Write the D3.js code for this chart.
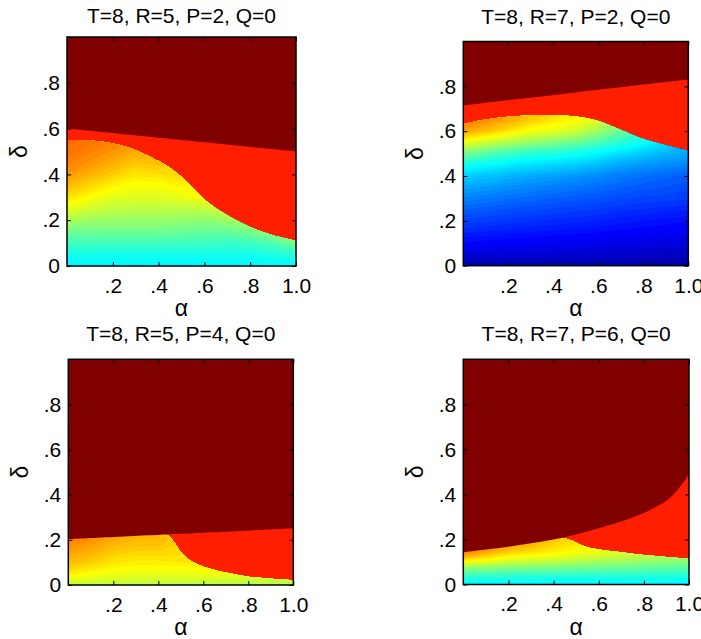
<!DOCTYPE html>
<html>
<head>
	<meta charset="utf-8">
	<title>Contour panels</title>
	<script type="text/javascript" src="https://cdn.jsdelivr.net/npm/d3@7"></script>
	<style>
		body {
			margin: 0;
			background: #fff;
		}
		svg {
			display: block;
			font-family: "Liberation Sans", Arial, Helvetica, sans-serif;
		}
	</style>
</head>

<body>

	<div id="chart"></div>

	<script>

	// data

	const titles = ["T=8, R=5, P=2, Q=0", "T=8, R=7, P=2, Q=0", "T=8, R=5, P=4, Q=0", "T=8, R=7, P=6, Q=0"];

	const alphaCols   = [0, 0.1, 0.2, 0.3, 0.4, 0.5, 0.6, 0.7, 0.8, 0.9, 1.0];
	const xTicks      = [0.2, 0.4, 0.6, 0.8, 1.0];
	const xTickLabels = [".2", ".4", ".6", ".8", "1.0"];
	const yTicks      = [0, 0.2, 0.4, 0.6, 0.8];
	const yTickLabels = ["0", ".2", ".4", ".6", ".8"];

	// colour levels of the two flat regions
	const darkLevel = 1.0;
	const redLevel  = 0.845;

	// panel 1 : T=8, R=5, P=2
	const upper1 = [[0, .60], [.5, .55], [1, .50]];
	const lower1 = [[0, .55], [.1, .548], [.2, .535], [.3, .506], [.4, .458], [.45, .428], [.5, .39],
		[.55, .342], [.6, .29], [.65, .252], [.7, .222], [.8, .17], [.9, .134], [1, .11]];
	const step1  = 0.05;
	const field1 = [
		[.37, .37, .37, .37, .37, .37, .37, .37, .37, .37, .37],
		[.40, .40, .40, .40, .40, .40, .40, .40, .40, .41, .42],
		[.44, .445, .445, .445, .445, .44, .44, .435, .44, .46, .50],
		[.49, .49, .49, .49, .49, .485, .48, .48, .50, .53, .53],
		[.55, .535, .53, .53, .53, .525, .52, .535, .56, .55, .53],
		[.61, .585, .57, .565, .565, .565, .57, .59, .56, .55, .53],
		[.66, .63, .605, .60, .60, .61, .63, .59, .56, .55, .53],
		[.70, .67, .64, .625, .625, .64, .63, .59, .56, .55, .53],
		[.735, .705, .68, .655, .66, .67, .63, .59, .56, .55, .53],
		[.755, .735, .71, .685, .695, .67, .63, .59, .56, .55, .53],
		[.77, .755, .735, .715, .71, .67, .63, .59, .56, .55, .53],
		[.78, .77, .755, .735, .71, .67, .63, .59, .56, .55, .53],
		[.785, .775, .765, .745, .71, .67, .63, .59, .56, .55, .53]
	];

	// panel 2 : T=8, R=7, P=2
	const upper2 = [[0, .715], [.5, .773], [1, .83]];
	const lower2 = [[0, .632], [.1, .652], [.2, .664], [.3, .670], [.4, .671], [.5, .665], [.6, .645],
		[.7, .605], [.8, .565], [.9, .537], [1, .512]];
	const step2  = 0.05;
	const field2 = [
		[.05, .05, .05, .05, .05, .05, .049, .048, .047, .046, .045],
		[.09, .09, .088, .087, .085, .083, .081, .078, .075, .072, .07],
		[.135, .13, .127, .123, .12, .117, .113, .108, .103, .099, .095],
		[.165, .16, .155, .15, .145, .142, .138, .133, .128, .124, .12],
		[.195, .19, .183, .177, .172, .167, .162, .155, .15, .145, .14],
		[.225, .218, .21, .203, .197, .192, .186, .178, .173, .169, .165],
		[.26, .25, .24, .232, .225, .218, .211, .203, .197, .193, .19],
		[.295, .285, .272, .262, .255, .246, .237, .227, .218, .212, .205],
		[.335, .322, .31, .298, .29, .279, .267, .252, .24, .23, .22],
		[.40, .38, .365, .352, .342, .33, .315, .295, .28, .27, .26],
		[.495, .465, .44, .42, .41, .395, .375, .35, .33, .31, .295],
		[.615, .58, .55, .525, .505, .485, .45, .42, .39, .35, .31],
		[.72, .69, .655, .62, .605, .58, .535, .49, .44, .37, .31],
		[.77, .745, .715, .68, .655, .635, .60, .52, .44, .37, .31],
		[.785, .765, .735, .70, .68, .64, .60, .52, .44, .37, .31],
		[.785, .765, .735, .70, .68, .64, .60, .52, .44, .37, .31]
	];

	// panel 3 : T=8, R=5, P=4
	const upper3 = [[0, .203], [.5, .227], [1, .251]];
	const lower3 = [[0, .203], [.1, .208], [.2, .213], [.3, .218], [.4, .222], [.44, .221], [.47, .19],
		[.5, .145], [.54, .11], [.58, .09], [.63, .072], [.7, .055], [.8, .037], [.9, .028], [1, .022]];
	const step3  = 0.025;
	const field3 = [
		[.57, .57, .565, .565, .565, .56, .56, .56, .555, .555, .555],
		[.61, .60, .595, .59, .59, .59, .59, .59, .585, .58, .58],
		[.645, .63, .615, .61, .61, .61, .615, .62, .61, .60, .59],
		[.675, .655, .635, .63, .63, .63, .635, .63, .61, .60, .59],
		[.695, .68, .655, .645, .645, .65, .65, .63, .61, .60, .59],
		[.71, .695, .67, .66, .66, .66, .65, .63, .61, .60, .59],
		[.725, .71, .685, .675, .675, .67, .65, .63, .61, .60, .59],
		[.74, .725, .70, .69, .69, .67, .65, .63, .61, .60, .59],
		[.755, .74, .715, .70, .70, .67, .65, .63, .61, .60, .59],
		[.76, .75, .72, .71, .705, .67, .65, .63, .61, .60, .59],
		[.76, .75, .72, .71, .705, .67, .65, .63, .61, .60, .59]
	];

	// panel 4 : T=8, R=7, P=6
	const upper4 = [[0, .143], [.1, .155], [.2, .168], [.3, .183], [.4, .2], [.5, .222], [.6, .25],
		[.7, .28], [.8, .318], [.85, .343], [.9, .372], [.95, .42], [1, .49]];
	const lower4 = [[0, .143], [.1, .155], [.2, .168], [.3, .183], [.4, .2], [.44, .207], [.48, .195],
		[.53, .172], [.6, .155], [.7, .143], [.8, .131], [.9, .122], [1, .114]];
	const step4  = 0.025;
	const field4 = [
		[.375, .375, .375, .375, .375, .375, .375, .375, .375, .375, .375],
		[.41, .408, .405, .402, .40, .40, .40, .40, .40, .398, .395],
		[.46, .455, .45, .447, .445, .443, .44, .438, .435, .432, .43],
		[.53, .52, .51, .505, .50, .495, .49, .485, .48, .475, .47],
		[.63, .605, .58, .57, .56, .55, .54, .532, .525, .517, .51],
		[.71, .675, .64, .625, .615, .60, .585, .575, .565, .552, .54],
		[.77, .73, .69, .67, .65, .635, .62, .60, .585, .57, .555],
		[.78, .75, .72, .70, .67, .65, .62, .60, .585, .57, .555],
		[.78, .76, .74, .71, .685, .66, .62, .60, .585, .57, .555],
		[.78, .76, .74, .71, .685, .66, .62, .60, .585, .57, .555],
		[.78, .76, .74, .71, .685, .66, .62, .60, .585, .57, .555]
	];

	// layout

	const width    = 701;
	const height   = 639;
	const fontSize = 21;

	const panels = [
		{ x0: 67,    x1: 296,   y0: 37,    y1: 266,   titleY: 23,  upper: upper1, lower: lower1, field: field1, step: step1 },
		{ x0: 463.3, x1: 688.3, y0: 41.5,  y1: 265.7, titleY: 24,  upper: upper2, lower: lower2, field: field2, step: step2 },
		{ x0: 68.3,  x1: 293.3, y0: 359.3, y1: 585,   titleY: 341, upper: upper3, lower: lower3, field: field3, step: step3 },
		{ x0: 463.3, x1: 689,   y0: 359.3, y1: 584.5, titleY: 341, upper: upper4, lower: lower4, field: field4, step: step4 }
	];

	// MATLAB jet
	const jet = d3.scaleLinear()
		.domain([0, 0.125, 0.375, 0.625, 0.875, 1])
		.range(["#000080", "#0000ff", "#00ffff", "#ffff00", "#ff0000", "#800000"])
		.interpolate(d3.interpolateRgb)
		.clamp(true);

	const levels = d3.range(0, 1, 0.0125);

	const svg = d3.select("#chart")
		.append("svg")
		.attr("width", width)
		.attr("height", height)
		.attr("viewBox", [0, 0, width, height]);

	panels.forEach((p, k) => {
		const x = d3.scaleLinear().domain([0, 1]).range([p.x0, p.x1]);
		const y = d3.scaleLinear().domain([0, 1]).range([p.y1, p.y0]);
		const g = svg.append("g");

		// clip for the graded part (below the lower boundary)
		const lowerArea = d3.area()
			.x(d => x(d[0]))
			.y0(y(0))
			.y1(d => y(d[1]))
			.curve(d3.curveCatmullRom);

		g.append("clipPath")
			.attr("id", "grad" + k)
			.append("path")
			.attr("d", lowerArea(p.lower));

		// flat red region underneath everything
		g.append("rect")
			.attr("x", p.x0)
			.attr("y", p.y0)
			.attr("width", p.x1 - p.x0)
			.attr("height", p.y1 - p.y0)
			.attr("fill", jet(redLevel));

		// filled contours of the graded part
		const n = alphaCols.length;
		const m = p.field.length;
		const aStep = alphaCols[1] - alphaCols[0];
		const contours = d3.contours()
			.size([n, m])
			.thresholds(levels)(p.field.flat());

		const proj = d3.geoTransform({
			point(px, py) {
				this.stream.point(x(aStep * (px - 0.5)), y(p.step * (py - 0.5)));
			}
		});

		g.append("g")
			.attr("clip-path", `url(#grad${k})`)
			.selectAll("path")
			.data(contours)
			.join("path")
			.attr("d", d3.geoPath(proj))
			.attr("fill", d => jet(d.value));

		// dark red region above the upper boundary
		const upperArea = d3.area()
			.x(d => x(d[0]))
			.y0(d => y(d[1]))
			.y1(y(1))
			.curve(d3.curveCatmullRom);

		g.append("path")
			.attr("d", upperArea(p.upper))
			.attr("fill", jet(darkLevel));

		// axes, ticks inward on all four sides
		const styleAxis = sel => {
			sel.attr("font-size", fontSize).attr("font-family", null);
			sel.select(".domain").remove();
			sel.selectAll(".tick line").attr("stroke", "#000");
			sel.selectAll(".tick text").attr("fill", "#000");
		};

		g.append("g")
			.attr("transform", `translate(0,${p.y1})`)
			.call(d3.axisBottom(x).tickValues(xTicks).tickFormat((d, i) => xTickLabels[i])
				.tickSizeInner(-4).tickSizeOuter(0).tickPadding(12))
			.call(styleAxis);

		g.append("g")
			.attr("transform", `translate(0,${p.y0})`)
			.call(d3.axisTop(x).tickValues(xTicks).tickFormat("").tickSizeInner(-4).tickSizeOuter(0))
			.call(styleAxis);

		g.append("g")
			.attr("transform", `translate(${p.x0},0)`)
			.call(d3.axisLeft(y).tickValues(yTicks).tickFormat((d, i) => yTickLabels[i])
				.tickSizeInner(-4).tickSizeOuter(0).tickPadding(7))
			.call(styleAxis);

		g.append("g")
			.attr("transform", `translate(${p.x1},0)`)
			.call(d3.axisRight(y).tickValues(yTicks).tickFormat("").tickSizeInner(-4).tickSizeOuter(0))
			.call(styleAxis);

		g.append("rect")
			.attr("x", p.x0)
			.attr("y", p.y0)
			.attr("width", p.x1 - p.x0)
			.attr("height", p.y1 - p.y0)
			.attr("fill", "none")
			.attr("stroke", "#000")
			.attr("stroke-width", 1.5);

		// labels
		g.append("text")
			.attr("x", (p.x0 + p.x1) / 2)
			.attr("y", p.titleY)
			.attr("text-anchor", "middle")
			.attr("font-size", fontSize)
			.text(titles[k]);

		g.append("text")
			.attr("x", (p.x0 + p.x1) / 2)
			.attr("y", p.y1 + 50)
			.attr("text-anchor", "middle")
			.attr("font-size", fontSize + 2)
			.text("α");

		g.append("text")
			.attr("transform", `translate(${p.x0 - 40},${(p.y0 + p.y1) / 2}) rotate(-90)`)
			.attr("text-anchor", "middle")
			.attr("font-size", fontSize + 2)
			.text("δ");
	});

	</script>

</body>

</html>
